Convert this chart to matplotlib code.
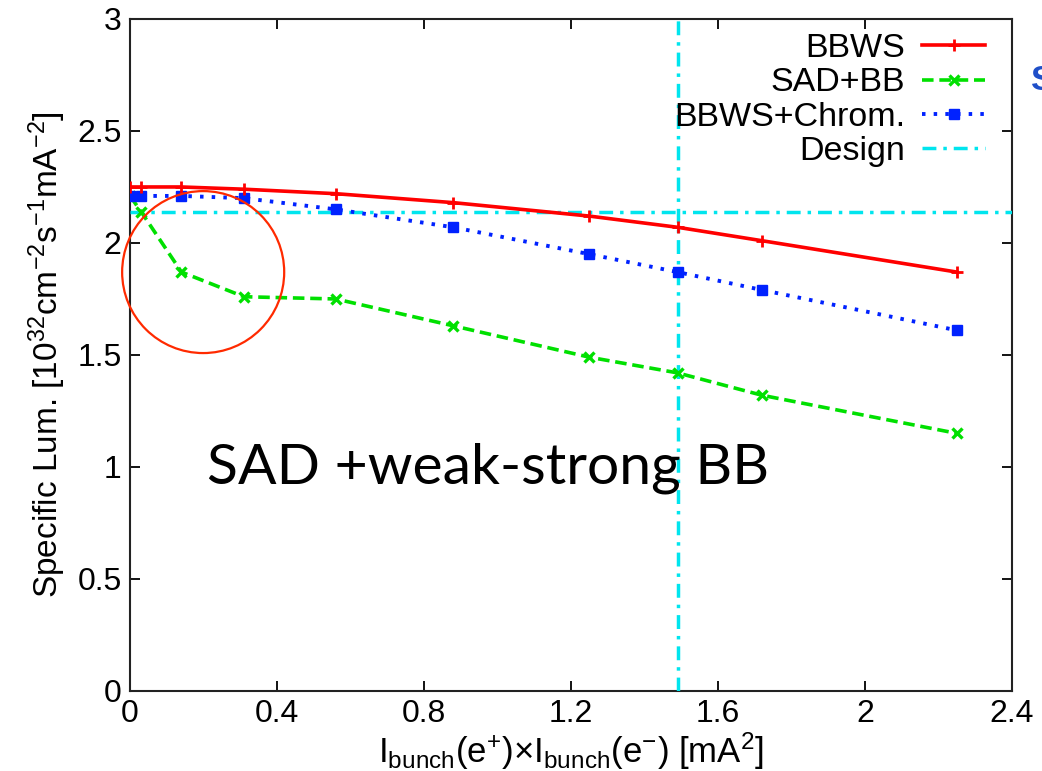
import numpy as np
import matplotlib
matplotlib.use("Agg")
import matplotlib.pyplot as plt
from matplotlib.patches import Ellipse

plt.rcParams['font.family'] = ['Liberation Sans', 'DejaVu Sans']
plt.rcParams['mathtext.fontset'] = 'custom'
plt.rcParams['mathtext.rm'] = 'Liberation Sans'
plt.rcParams['mathtext.it'] = 'Liberation Sans:italic'
plt.rcParams['mathtext.bf'] = 'Liberation Sans:bold'

# datos
x = [0.0, 0.03, 0.14, 0.31, 0.56, 0.88, 1.25, 1.49, 1.72, 2.25]
lum_bbws = [2.25, 2.25, 2.25, 2.24, 2.22, 2.18, 2.12, 2.07, 2.01, 1.87]
lum_sad = [2.21, 2.14, 1.87, 1.76, 1.75, 1.63, 1.49, 1.42, 1.32, 1.15]
lum_chrom = [2.21, 2.21, 2.21, 2.20, 2.15, 2.07, 1.95, 1.87, 1.79, 1.61]
design_lum = 2.14
design_x = 1.49

xticks = [0, 0.4, 0.8, 1.2, 1.6, 2.0, 2.4]
xtick_labels = ['0', '0.4', '0.8', '1.2', '1.6', '2', '2.4']
yticks = [0, 0.5, 1, 1.5, 2, 2.5, 3]
ytick_labels = ['0', '0.5', '1', '1.5', '2', '2.5', '3']

f = plt.figure(figsize=(10.42, 7.71), dpi=100)
ax = f.add_axes([0.1248, 0.1038, 0.8464, 0.8716])

ax.plot(x, lum_bbws, color='#ff0000', lw=2.6, marker='+', ms=8, mew=2,
        label='BBWS', zorder=5)
ax.plot(x, lum_sad, color='#00e000', lw=2.6, ls=(0, (3.2, 1.6)), marker='x',
        ms=7, mew=2.4, label='SAD+BB', zorder=4)
ax.plot(x, lum_chrom, color='#0022ff', lw=2.8, ls=(0, (0.9, 2.1)), marker='s',
        ms=7, mew=1, label='BBWS+Chrom.', zorder=4)
ax.axhline(design_lum, color='#00e5ee', lw=2.5, ls=(0, (4, 2, 1, 2)),
           label='Design', zorder=3)
ax.axvline(design_x, color='#00e5ee', lw=2.5, ls=(0, (4, 2, 1, 2)), zorder=3)

ax.set_xlim(0, 2.4)
ax.set_ylim(0, 3)
ax.set_xticks(xticks)
ax.set_xticklabels(xtick_labels)
ax.set_yticks(yticks)
ax.set_yticklabels(ytick_labels)
ax.tick_params(direction='in', length=7, width=1.3, labelsize=23,
               top=True, right=True, pad=6)
for s in ax.spines.values():
    s.set_linewidth(1.5)
    s.set_color('#222222')

ax.set_xlabel(r'I$_{\mathrm{bunch}}$(e$^{+}$)$\times$I$_{\mathrm{bunch}}$(e$^{-}$) [mA$^{2}$]',
              fontsize=25, labelpad=1)
ax.set_ylabel(r'Specific Lum. [10$^{32}$cm$^{-2}$s$^{-1}$mA$^{-2}$]',
              fontsize=24, labelpad=7)

leg = ax.legend(loc='upper right', bbox_to_anchor=(0.9694, 0.979),
                markerfirst=False, frameon=False,
                fontsize=24.5, numpoints=1, handlelength=1.85,
                handletextpad=0.5, labelspacing=0.1,
                borderaxespad=0, borderpad=0)

# circulo rojo de la anotacion
circ = Ellipse((0.199, 1.87), width=0.441, height=0.723, fill=False,
               edgecolor='#ff2a00', lw=1.6, zorder=6, clip_on=False)
ax.add_patch(circ)

f.text(207 / 1042, 0.3735, 'SAD +weak-strong BB', fontsize=41,
       family=['Lato', 'DejaVu Sans'], color='black')

# fragmento azul cortado en el borde derecho
f.text(1031 / 1042, (771 - 90) / 771, 'S', fontsize=25, fontweight='bold',
       color='#1f4fc8')

f.savefig('out.png', dpi=100)
plt.close('all')
